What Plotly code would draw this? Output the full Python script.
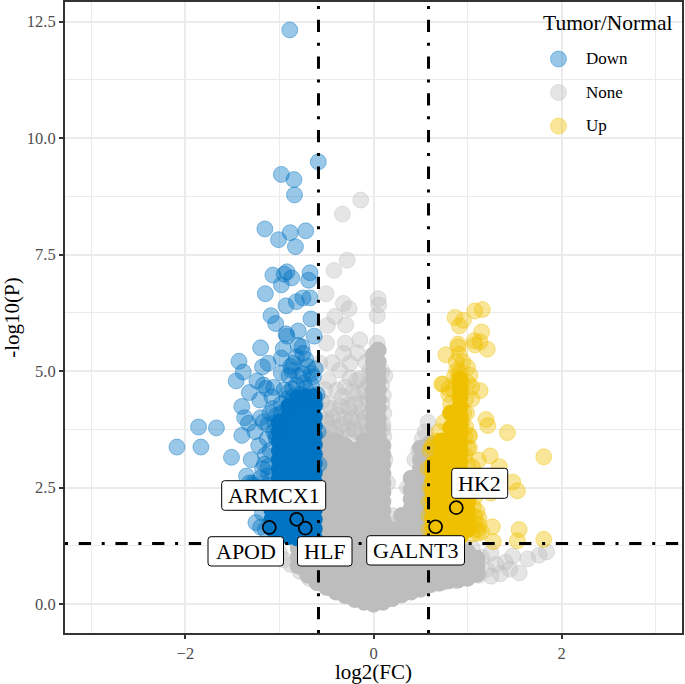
#!/usr/bin/env python3
"""Volcano plot, Tumor/Normal"""

import plotly.graph_objects as go

# Dense interior of each group, one y list per x column
gray_core_cols = [-0.8, -0.7, -0.6, -0.5, -0.4, -0.3, -0.2, -0.1, 0.0, 0.05,
                  0.1, 0.2, 0.3, 0.4, 0.5, 0.6, 0.7, 0.8, 0.9, 1.0, 1.1]
gray_core_ys = [
    [0.82, 1.0, 1.2],
    [0.62, 0.8, 1.0, 1.2],
    [0.46, 0.65, 0.85, 1.05, 1.25],
    [0.36, 0.55, 0.75, 0.95, 1.15, 1.35, 1.55, 1.75, 1.95, 2.15, 2.35, 2.55, 2.75, 2.95, 3.15, 3.35, 3.55],
    [0.26, 0.45, 0.65, 0.85, 1.05, 1.25, 1.45, 1.65, 1.85, 2.05, 2.25, 2.45, 2.65, 2.85, 3.05, 3.25, 3.5],
    [0.18, 0.35, 0.55, 0.75, 0.95, 1.15, 1.35, 1.55, 1.75, 1.95, 2.15, 2.35, 2.55, 2.75, 2.95, 3.15, 3.4],
    [0.1, 0.25, 0.45, 0.65, 0.85, 1.05, 1.25, 1.45, 1.65, 1.85, 2.05, 2.25, 2.45, 2.65, 2.85, 3.05, 3.3],
    [0.04, 0.2, 0.4, 0.6, 0.8, 1.0, 1.2, 1.4, 1.6, 1.8, 2.0, 2.2, 2.4, 2.6, 2.8, 3.0, 3.2, 3.5],
    [0.0, 0.2, 0.4, 0.6, 0.8, 1.0, 1.2, 1.4, 1.6, 1.8, 2.0, 2.2, 2.4, 2.6, 2.8, 3.0, 3.2, 3.4,
     3.6, 3.8, 4.0, 4.2, 4.4, 4.6, 4.8, 5.0, 5.2, 5.35],
    [3.6, 3.8, 4.0, 4.2, 4.4, 4.6, 4.8, 5.0, 5.2, 5.45],
    [0.04, 0.2, 0.4, 0.6, 0.8, 1.0, 1.2, 1.4, 1.6, 1.8, 2.0, 2.2, 2.4, 2.6, 2.8, 3.0, 3.2, 3.4],
    [0.12, 0.3, 0.5, 0.7, 0.9, 1.1, 1.35, 1.6],
    [0.2, 0.4, 0.6, 0.8, 1.0, 1.2, 1.4, 1.65, 1.9],
    [0.26, 0.45, 0.65, 0.85, 1.05, 1.25, 1.45, 1.65, 1.85, 2.05, 2.25, 2.45, 2.7],
    [0.32, 0.5, 0.7, 0.9, 1.1, 1.3, 1.5, 1.7, 1.9, 2.1, 2.3, 2.5, 2.7, 2.9, 3.1, 3.35],
    [0.42, 0.6, 0.8, 1.0, 1.2, 1.4, 1.6, 1.8, 2.0, 2.2, 2.4, 2.6, 2.8, 3.0, 3.2, 3.45],
    [0.45, 0.65, 0.85, 1.05, 1.22],
    [0.5, 0.7, 0.9, 1.1, 1.25],
    [0.52, 0.72, 0.92, 1.1],
    [0.56, 0.76, 0.96, 1.12],
    [0.64, 0.8, 0.98],
]
blue_core_cols = [-1.08, -1.0, -0.9, -0.81, -0.72, -0.63]
blue_core_ys = [
    [1.62, 1.82, 2.02, 2.22],
    [1.5, 1.7, 1.9, 2.1, 2.3, 2.5, 2.7, 2.9, 3.1, 3.3, 3.5, 3.7, 3.9],
    [1.45, 1.65, 1.85, 2.05, 2.25, 2.45, 2.65, 2.85, 3.05, 3.25, 3.45, 3.65, 3.85, 4.05, 4.25],
    [1.42, 1.62, 1.82, 2.02, 2.22, 2.42, 2.62, 2.82, 3.02, 3.22, 3.42, 3.62, 3.82, 4.02, 4.22, 4.42],
    [1.42, 1.62, 1.82, 2.02, 2.22, 2.42, 2.62, 2.82, 3.02, 3.22, 3.42, 3.62, 3.82, 4.02, 4.25, 4.45],
    [1.42, 1.62, 1.82, 2.02, 2.22, 2.42, 2.62, 2.82, 3.02, 3.22, 3.42, 3.62, 3.82, 4.02, 4.25, 4.45],
]
yellow_core_cols = [0.63, 0.72, 0.82, 0.92, 1.0]
yellow_core_ys = [
    [1.45, 1.65, 1.85, 2.05, 2.25, 2.45, 2.65, 2.85, 3.0],
    [1.42, 1.62, 1.82, 2.02, 2.22, 2.42, 2.62, 2.82, 3.02, 3.22, 3.5],
    [1.38, 1.58, 1.78, 1.98, 2.18, 2.38, 2.58, 2.78, 2.98, 3.18, 3.38, 3.58, 3.78, 4.1],
    [1.45, 1.65, 1.85, 2.05, 2.25, 2.45, 2.65, 2.85, 3.05, 3.25, 3.45, 3.65, 3.85, 4.05, 4.25, 4.45, 4.65, 4.82],
    [1.6, 1.8, 2.0, 2.2],
]

# Separately visible points
gray_x = [-0.136, -0.33, -0.28, -0.42, -0.505, -0.32, -0.26, -0.41, -0.49, -0.295, 0.05, 0.055, 0.04,
          -0.145, -0.5, -0.3, -0.17, -0.32, -0.57, -0.44, -0.25, -0.08, -0.36, -0.136, -0.25, -0.39,
          -0.3, -0.16, -0.28, 0.04, 0.087, 0.105, 0.11, -0.52, -0.45, -0.38, -0.22, -0.12, -0.33,
          -0.27, -0.42, -0.18, -0.5, -0.55, -0.07, 0.1,
          -1.0, -0.95, -0.88, -1.05, -0.78, -0.68,
          0.62, 0.75, 0.88, 1.0, 1.12, 1.2, 1.3, 1.4, 1.48, 1.55, 1.64, 1.76, 1.84, 1.35, 1.45, 1.25,
          1.15, 1.25, 1.05, 0.95,
          0.15, 0.12, 0.2, 0.25, 0.36, 0.44, 0.48, 0.55, 0.58, 0.52,
          -0.54, -0.47, -0.4, -0.34, -0.26, -0.2, -0.13, -0.06, -0.5, -0.43, -0.31, -0.24, -0.16,
          -0.09, -0.04, -0.35, -0.26, -0.2, -0.12, -0.06, -0.48, -0.56, -0.33, -0.22, -0.1, -0.05,
          -0.48, -0.18, -0.04, 0.1, 0.11, 0.09, 0.09, 0.12]
gray_y = [8.67, 8.37, 7.38, 7.16, 6.66, 6.45, 6.34, 6.17, 5.98, 5.99, 6.55, 6.42, 6.19,
          5.67, 5.6, 5.6, 5.39, 5.38, 5.17, 5.18, 5.17, 5.19, 5.02, 4.84, 4.85, 4.59,
          4.66, 4.51, 4.27, 5.6, 4.7, 4.48, 4.1, 4.6, 4.2, 4.05, 4.0, 4.15, 3.85,
          3.75, 3.8, 3.7, 3.9, 4.35, 3.85, 3.75,
          1.1, 0.95, 0.85, 1.25, 0.7, 0.55,
          0.42, 0.47, 0.5, 0.55, 0.62, 0.75, 0.85, 0.9, 1.03, 0.67, 0.97, 1.05, 1.12, 0.65, 0.75, 0.6,
          1.0, 1.1, 1.2, 1.25,
          2.6, 3.1, 1.9, 1.75, 2.5, 3.1, 3.3, 3.7, 3.9, 3.55,
          3.6, 3.75, 3.65, 3.7, 3.6, 3.75, 3.65, 3.7, 3.95, 4.0, 4.0, 3.95, 3.95,
          4.0, 4.1, 4.25, 4.2, 4.3, 4.3, 4.4, 4.3, 4.0, 4.45, 4.55, 4.6, 4.75,
          4.8, 4.8, 5.0, 3.85, 3.6, 4.3, 5.0, 4.9]

blue_x = [-0.89, -0.587, -0.98, -0.846, -0.84, -1.155, -1.01, -0.885, -0.72, -0.83,
          -1.07, -0.92, -0.95, -0.87, -0.98, -0.675, -0.69, -1.15, -0.675, -0.75, -0.82, -0.93,
          -1.09, -1.04, -0.665, -0.8, -0.63, -0.92, -0.93, -1.2, -0.96, -0.76, -0.75,
          -1.43, -0.98, -1.12, -1.18, -0.85, -0.87, -1.385, -1.46, -0.98, -0.75, -0.64,
          -1.24, -1.17, -1.32, -1.21, -1.14, -1.08, -1.06, -0.95, -0.86, -0.72,
          -1.4, -1.37, -1.33, -1.2, -1.17, -1.05, -1.26, -1.4, -1.86, -1.67, -2.09, -1.835, -1.51,
          -1.13, -1.1, -1.04, -1.22, -1.3, -1.35, -1.28, -1.16, -1.03, -1.25, -1.2, -1.12, -1.18,
          -0.6, -0.59, -0.58, -0.6,
          -0.98, -0.92, -0.85, -0.78, -0.7, -0.64, -0.9, -0.82, -0.74, -0.66, -0.98, -1.03, -1.07, -1.0,
          -1.06, -1.12, -1.1, -0.95, -0.62, -0.9, -0.66, -0.8, -0.7, -0.62, -0.82, -0.72, -0.88, -0.8,
          -1.15, -1.12, -1.18, -1.12, -1.17, -1.25, -1.22, -1.15, -1.18, -1.27, -1.32, -1.25, -1.2,
          -1.15, -1.1, -1.1]
blue_y = [12.32, 9.49, 9.22, 9.11, 8.78, 8.05, 7.82, 7.97, 8.01, 7.67,
          7.06, 7.13, 7.08, 7.0, 6.85, 7.11, 6.95, 6.66, 6.57, 6.57, 6.49, 6.4,
          6.19, 6.02, 6.12, 5.86, 5.75, 5.75, 5.8, 5.5, 5.48, 5.52, 5.38,
          5.21, 5.28, 5.17, 5.09, 5.17, 5.02, 4.98, 4.79, 4.96, 4.94, 4.88,
          4.79, 4.7, 4.54, 4.38, 4.63, 4.45, 4.65, 4.6, 4.62, 4.62,
          4.24, 4.0, 3.88, 4.0, 3.91, 3.88, 3.7, 3.62, 3.8, 3.78, 3.37, 3.37, 3.15,
          3.55, 3.3, 3.6, 3.4, 3.1, 2.75, 2.6, 3.0, 3.55, 2.5, 2.7, 2.55, 2.35,
          4.5, 3.7, 3.0, 2.2,
          4.3, 4.4, 4.45, 4.5, 4.4, 4.45, 4.55, 4.7, 4.75, 4.7, 4.1, 4.05, 4.2, 3.85,
          3.7, 3.85, 4.1, 3.95, 4.3, 4.9, 4.95, 4.9, 5.1, 5.05, 5.3, 5.25, 5.1, 5.55,
          3.2, 2.95, 2.9, 2.75, 2.45, 2.4, 2.2, 2.2, 1.95, 2.55, 2.6, 1.75, 1.65,
          1.6, 2.45, 2.65]

yellow_x = [1.157, 1.077, 0.867, 0.955, 0.913, 1.15, 1.07, 1.133, 0.9, 0.9, 1.077, 1.21, 0.77, 0.913,
            1.0, 0.885, 1.027, 0.86, 0.725, 0.74, 0.8, 1.133, 1.045, 1.045, 0.99, 1.197, 1.215,
            1.424, 1.016, 1.115, 1.24, 1.81, 1.338, 1.48, 1.53, 1.247, 1.264, 1.548, 1.53, 1.274,
            1.81, 1.115, 1.08, 1.06, 0.6, 0.58, 0.62, 0.59, 1.02, 1.05, 1.08, 1.04, 1.1, 1.0, 0.97, 0.94,
            0.82, 0.75, 0.7, 0.9, 0.95, 0.98, 0.96, 0.98, 1.02, 1.0, 0.97, 1.0, 1.04, 1.08, 1.1, 1.12,
            1.12, 0.85, 0.8, 0.92, 0.88, 0.95, 1.0, 0.63, 0.66, 0.6, 0.59, 0.59, 1.15, 1.05]
yellow_y = [6.32, 6.29, 6.15, 6.09, 5.97, 5.84, 5.65, 5.63, 5.58, 5.52, 5.56, 5.47, 5.35, 5.36,
            5.08, 5.02, 4.91, 4.88, 4.72, 4.72, 4.62, 4.58, 4.66, 4.4, 4.1, 3.96, 3.83,
            3.68, 3.63, 3.09, 3.18, 3.16, 2.95, 2.62, 2.43, 2.38, 1.66, 1.6, 1.36, 1.34,
            1.39, 1.52, 1.87, 2.09, 3.3, 2.9, 3.4, 2.2, 3.35, 2.95, 1.75, 2.5, 1.6, 3.0, 3.6, 3.9,
            4.3, 3.9, 3.7, 4.85, 4.7, 4.4, 4.1, 3.8, 3.6, 3.35, 3.2, 2.6, 2.4, 2.3, 2.0, 1.85,
            1.7, 4.6, 4.5, 5.0, 5.2, 5.2, 4.75, 3.35, 3.5, 2.5, 1.9, 1.6, 1.55, 1.5]

# Labelled genes
gene_names = ['ARMCX1', 'APOD', 'HLF', 'GALNT3', 'HK2']
gene_x = [-0.817, -1.108, -0.725, 0.66, 0.88]
gene_y = [1.82, 1.645, 1.63, 1.66, 2.07]

x_ticks = [-2, 0, 2]
x_minor = [-3, -1, 1, 3]
y_ticks = [0, 2.5, 5, 7.5, 10, 12.5]
y_minor = [1.25, 3.75, 6.25, 8.75, 11.25]
group_names = ['Down', 'None', 'Up']
group_colors = ['0,115,194', '189,189,189', '239,192,0']

FC_CUT = 0.585
P_CUT = 1.3
SERIF = 'Liberation Serif'

W, H = 685, 684
LEFT, RIGHT, TOP, BOTTOM = 65, 682, 2, 633


def px(x):
    return (x - LEFT) / (RIGHT - LEFT)


def py(y):
    return (BOTTOM - y) / (BOTTOM - TOP)


def flatten(cols, ys):
    out_x, out_y = [], []
    for col, vals in zip(cols, ys):
        out_x += [col] * len(vals)
        out_y += vals
    return out_x, out_y


def points(x, y, rgb, name, alpha):
    return go.Scatter(x=x, y=y, mode='markers', name=name, showlegend=False, hoverinfo='skip',
                      marker=dict(size=16, color=f'rgba({rgb},{alpha})',
                                  line=dict(color=f'rgba({rgb},{alpha})', width=1)))


def rounded_box(x0, x1, y0, y1, r=3):
    x0, x1 = px(x0), px(x1)
    y0, y1 = py(y0), py(y1)
    rx, ry = r / (RIGHT - LEFT), r / (BOTTOM - TOP)
    return (f'M {x0 + rx} {y0} L {x1 - rx} {y0} Q {x1} {y0} {x1} {y0 - ry} L {x1} {y1 + ry} '
            f'Q {x1} {y1} {x1 - rx} {y1} L {x0 + rx} {y1} Q {x0} {y1} {x0} {y1 + ry} '
            f'L {x0} {y0 - ry} Q {x0} {y0} {x0 + rx} {y0} Z')


fig = go.Figure()
fig.add_trace(points(gray_x, gray_y, group_colors[1], 'None', 0.4))
fig.add_trace(points(*flatten(gray_core_cols, gray_core_ys), group_colors[1], 'None', 1))
fig.add_trace(points(*flatten(blue_core_cols, blue_core_ys), group_colors[0], 'Down', 1))
fig.add_trace(points(blue_x, blue_y, group_colors[0], 'Down', 0.4))
fig.add_trace(points(*flatten(yellow_core_cols, yellow_core_ys), group_colors[2], 'Up', 1))
fig.add_trace(points(yellow_x, yellow_y, group_colors[2], 'Up', 0.4))
fig.add_trace(go.Scatter(x=gene_x, y=gene_y, mode='markers', text=gene_names, showlegend=False,
                         marker=dict(size=13, color='rgba(0,0,0,0)', line=dict(color='black', width=1.7))))

# Cut-off lines start at the bottom/left so the dash pattern lines up
dash = '3px,10.7px,12.3px,10.7px'
for xv in (-FC_CUT, FC_CUT):
    fig.add_shape(type='line', xref='x', yref='paper', x0=xv, x1=xv, y0=0, y1=1,
                  line=dict(color='black', width=3, dash=dash))
fig.add_shape(type='line', xref='paper', yref='y', x0=0, x1=1, y0=P_CUT, y1=P_CUT,
              line=dict(color='black', width=3, dash=dash))

# Gene labels
label_boxes = [(221.7, 325.7, 480.7, 510.3), (208, 283.5, 536.7, 566), (297.5, 352, 536.7, 566),
               (366.7, 464.5, 535.7, 565), (451.7, 507.7, 468.3, 498.3)]
for name, (x0, x1, y0, y1) in zip(gene_names, label_boxes):
    fig.add_shape(type='path', xref='paper', yref='paper', path=rounded_box(x0, x1, y0, y1),
                  fillcolor='white', line=dict(color='black', width=1))
    fig.add_annotation(xref='paper', yref='paper', x=px((x0 + x1) / 2), y=py((y0 + y1) / 2), text=name,
                       xanchor='center', yanchor='middle', showarrow=False,
                       font=dict(family=SERIF, size=22, color='black'))

# Legend drawn by hand, the keys are much further apart than a plotly legend allows
fig.add_shape(type='rect', xref='paper', yref='paper', layer='between', x0=px(542), x1=px(576),
              y0=py(143), y1=py(42), fillcolor='white', line_width=0)
fig.add_annotation(xref='paper', yref='paper', x=px(541), y=py(23), xanchor='left', yanchor='middle',
                   text='Tumor/Normal', showarrow=False, font=dict(family=SERIF, size=21.5, color='black'))
for name, rgb, yc in zip(group_names, group_colors, (59, 92.5, 126)):
    fig.add_shape(type='circle', xref='paper', yref='paper', x0=px(550.5), x1=px(566.5),
                  y0=py(yc + 8), y1=py(yc - 8), fillcolor=f'rgba({rgb},0.4)',
                  line=dict(color=f'rgba({rgb},0.4)', width=1))
    fig.add_annotation(xref='paper', yref='paper', x=px(584), y=py(yc), xanchor='left', yanchor='middle',
                       text=name, showarrow=False, font=dict(family=SERIF, size=17, color='black'))

axis_style = dict(showline=True, linecolor='#333333', linewidth=2, mirror=True, zeroline=False,
                  showgrid=True, gridcolor='#ebebeb', gridwidth=2,
                  ticks='outside', ticklen=4, tickwidth=1.5, tickcolor='#333333',
                  tickfont=dict(family=SERIF, size=16.5, color='#4d4d4d'))
fig.update_xaxes(range=[-3.28, 3.28], tickvals=x_ticks, tickformat='d',
                 minor=dict(tickvals=x_minor, showgrid=True, gridcolor='#ebebeb', gridwidth=1, ticks=''),
                 title=dict(text='log2(FC)', font=dict(family=SERIF, size=21, color='black'), standoff=6),
                 **axis_style)
fig.update_yaxes(range=[-0.62, 12.92], tickvals=y_ticks, tickformat='.1f',
                 minor=dict(tickvals=y_minor, showgrid=True, gridcolor='#ebebeb', gridwidth=1, ticks=''),
                 title=dict(text='-log10(P)', font=dict(family=SERIF, size=21, color='black'), standoff=6),
                 **axis_style)
fig.update_layout(width=W, height=H, template='none', plot_bgcolor='white', paper_bgcolor='white',
                  showlegend=False, margin=dict(l=LEFT, r=W - RIGHT, t=TOP, b=H - BOTTOM),
                  hovermode='closest')
# The page's default body margin would push the chart 8px off the window
fig.write_html("out.html", config=dict(displayModeBar=False), post_script="document.body.style.margin='0';")
